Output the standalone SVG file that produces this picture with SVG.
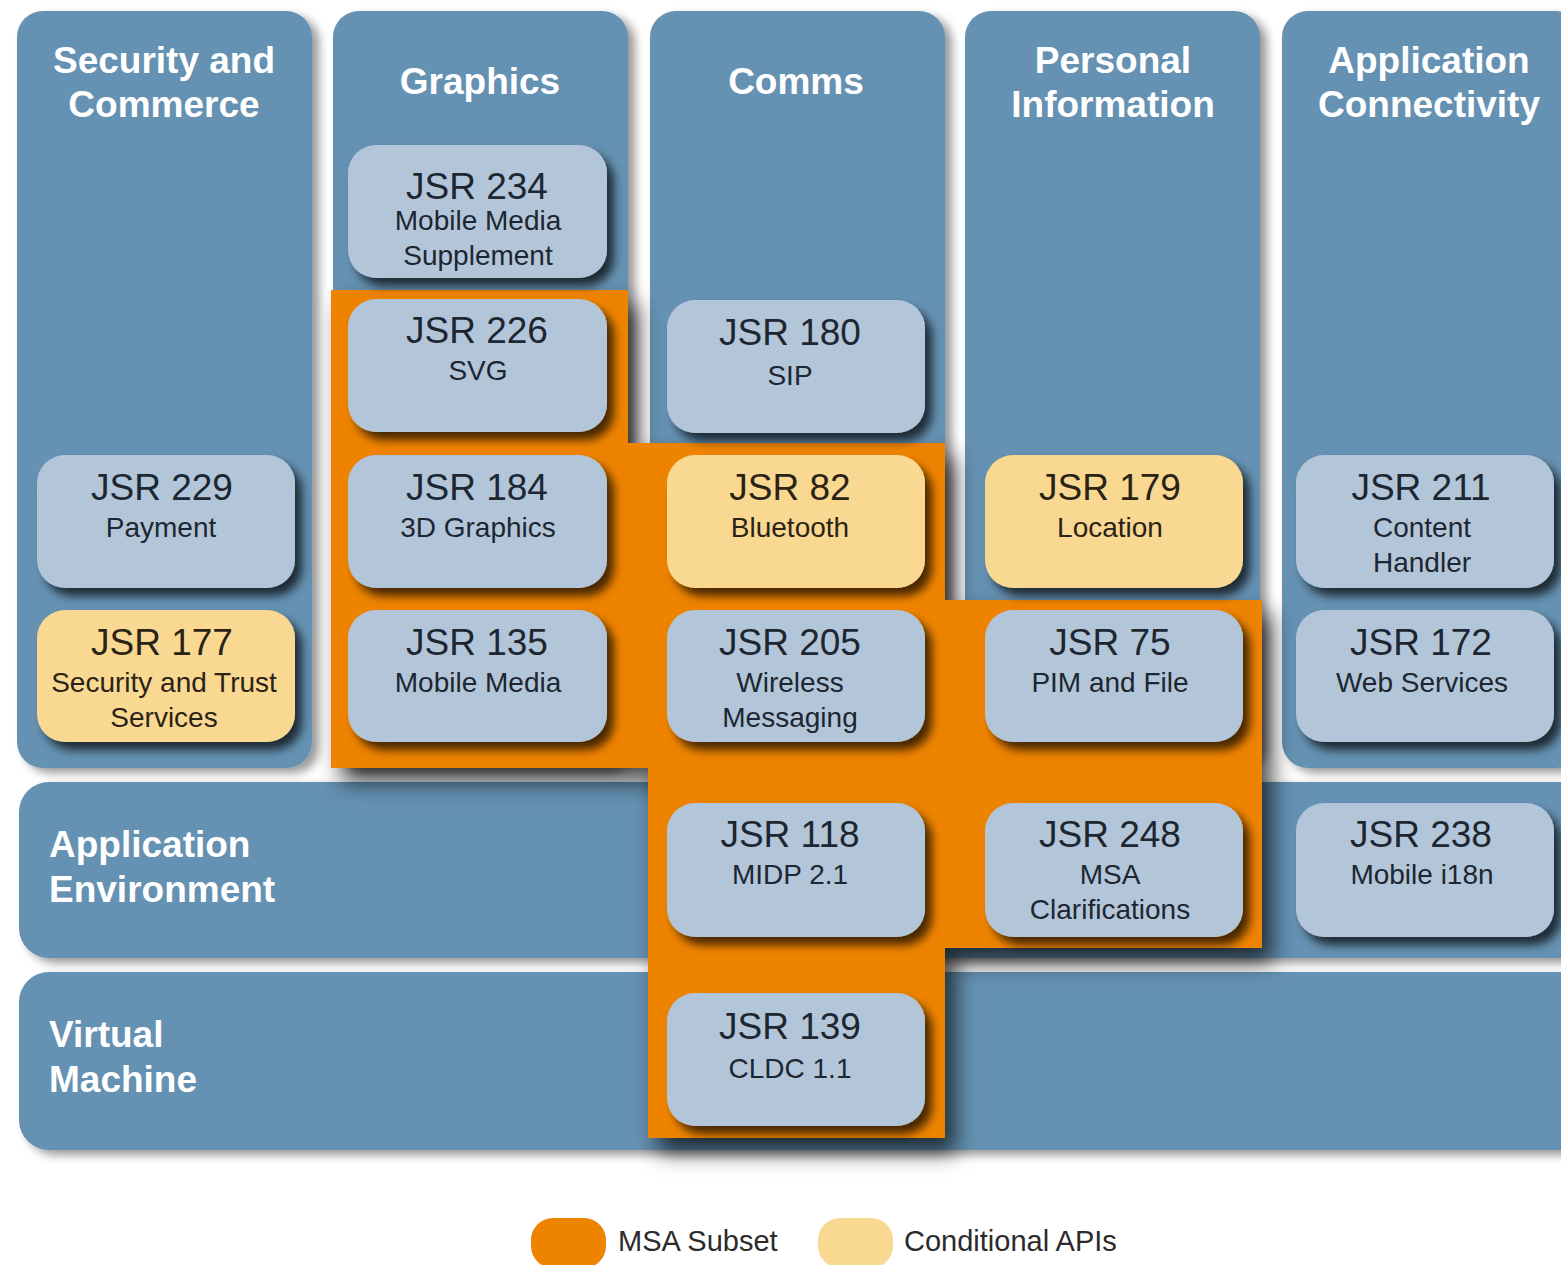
<svg xmlns="http://www.w3.org/2000/svg" width="1561" height="1265" viewBox="0 0 1561 1265">
  <defs>
    <filter id="panelShadow" x="-10%" y="-10%" width="130%" height="130%">
      <feDropShadow dx="7" dy="5" stdDeviation="5" flood-color="#000" flood-opacity="0.4"/>
    </filter>
    <filter id="msaShadow" x="-15%" y="-15%" width="140%" height="140%">
      <feDropShadow dx="10" dy="14" stdDeviation="11" flood-color="#000" flood-opacity="0.7"/>
    </filter>
    <filter id="boxShadow" x="-10%" y="-10%" width="130%" height="140%">
      <feDropShadow dx="7" dy="8" stdDeviation="5" flood-color="#000" flood-opacity="0.7"/>
    </filter>
    <style>
      .panel { fill: #6591b2; filter: url(#panelShadow); }
      .msa { fill: #ee8300; filter: url(#msaShadow); }
      .box { fill: #b3c6d9; filter: url(#boxShadow); }
      .cond { fill: #f9d991; filter: url(#boxShadow); }
      .head { font-family: "Liberation Sans", Arial, sans-serif; font-weight: bold; font-size: 37px; fill: #ffffff; text-anchor: middle; }
      .rowhead { font-family: "Liberation Sans", Arial, sans-serif; font-weight: bold; font-size: 37px; fill: #ffffff; }
      .t { font-family: "Liberation Sans", Arial, sans-serif; font-size: 37px; fill: #1d2631; text-anchor: middle; }
      .s { font-family: "Liberation Sans", Arial, sans-serif; font-size: 28px; fill: #1d2631; text-anchor: middle; }
      .ct { fill: #2a2316; }
      .legend { font-family: "Liberation Sans", Arial, sans-serif; font-size: 29px; fill: #2b2b2b; }
    </style>
  </defs>

  <rect width="1561" height="1265" fill="#ffffff"/>

  <!-- layer rows -->
  <g id="row-app-env">
    <rect class="panel" x="19" y="782" width="1580" height="176" rx="30"/>
    <text class="rowhead" x="49" y="857">Application</text>
    <text class="rowhead" x="49" y="902">Environment</text>
  </g>
  <g id="row-vm">
    <rect class="panel" x="19" y="972" width="1580" height="178" rx="30"/>
    <text class="rowhead" x="49" y="1047">Virtual</text>
    <text class="rowhead" x="49" y="1092">Machine</text>
  </g>

  <!-- functional area columns -->
  <g id="col-security">
    <rect class="panel" x="17" y="11" width="295" height="757" rx="26"/>
    <text class="head" x="164" y="73">Security and</text>
    <text class="head" x="164" y="117">Commerce</text>
  </g>
  <g id="col-graphics">
    <rect class="panel" x="333" y="11" width="295" height="757" rx="26"/>
    <text class="head" x="480" y="94">Graphics</text>
  </g>
  <g id="col-comms">
    <rect class="panel" x="650" y="11" width="295" height="757" rx="26"/>
    <text class="head" x="796" y="94">Comms</text>
  </g>
  <g id="col-personal">
    <rect class="panel" x="965" y="11" width="295" height="757" rx="26"/>
    <text class="head" x="1113" y="73">Personal</text>
    <text class="head" x="1113" y="117">Information</text>
  </g>
  <g id="col-connectivity">
    <rect class="panel" x="1282" y="11" width="300" height="757" rx="26"/>
    <text class="head" x="1429" y="73">Application</text>
    <text class="head" x="1429" y="117">Connectivity</text>
  </g>

  <!-- MSA subset area -->
  <g id="msa-subset">
    <path class="msa" d="M331 290 H628 V443 H945 V600 H1262 V948 H945 V1138 H648 V768 H331 Z"/>
  </g>

  <!-- JSR boxes -->
  <g id="jsr234">
    <rect class="box" x="348" y="145" width="259" height="133" rx="28"/>
    <text class="t" x="477" y="199">JSR 234</text>
    <text class="s" x="478" y="230">Mobile Media</text>
    <text class="s" x="478" y="265">Supplement</text>
  </g>
  <g id="jsr226">
    <rect class="box" x="348" y="299" width="259" height="133" rx="28"/>
    <text class="t" x="477" y="343">JSR 226</text>
    <text class="s" x="478" y="380">SVG</text>
  </g>
  <g id="jsr184">
    <rect class="box" x="348" y="455" width="259" height="133" rx="28"/>
    <text class="t" x="477" y="500">JSR 184</text>
    <text class="s" x="478" y="537">3D Graphics</text>
  </g>
  <g id="jsr135">
    <rect class="box" x="348" y="610" width="259" height="132" rx="28"/>
    <text class="t" x="477" y="655">JSR 135</text>
    <text class="s" x="478" y="692">Mobile Media</text>
  </g>

  <g id="jsr229">
    <rect class="box" x="37" y="455" width="258" height="133" rx="28"/>
    <text class="t" x="162" y="500">JSR 229</text>
    <text class="s" x="161" y="537">Payment</text>
  </g>
  <g id="jsr177">
    <rect class="cond" x="37" y="610" width="258" height="132" rx="28"/>
    <text class="t ct" x="162" y="655">JSR 177</text>
    <text class="s ct" x="164" y="692">Security and Trust</text>
    <text class="s ct" x="164" y="727">Services</text>
  </g>

  <g id="jsr180">
    <rect class="box" x="667" y="300" width="258" height="133" rx="28"/>
    <text class="t" x="790" y="345">JSR 180</text>
    <text class="s" x="790" y="385">SIP</text>
  </g>
  <g id="jsr82">
    <rect class="cond" x="667" y="455" width="258" height="133" rx="28"/>
    <text class="t ct" x="790" y="500">JSR 82</text>
    <text class="s ct" x="790" y="537">Bluetooth</text>
  </g>
  <g id="jsr205">
    <rect class="box" x="667" y="610" width="258" height="132" rx="28"/>
    <text class="t" x="790" y="655">JSR 205</text>
    <text class="s" x="790" y="692">Wireless</text>
    <text class="s" x="790" y="727">Messaging</text>
  </g>
  <g id="jsr118">
    <rect class="box" x="667" y="803" width="258" height="134" rx="28"/>
    <text class="t" x="790" y="847">JSR 118</text>
    <text class="s" x="790" y="884">MIDP 2.1</text>
  </g>
  <g id="jsr139">
    <rect class="box" x="667" y="993" width="258" height="133" rx="28"/>
    <text class="t" x="790" y="1039">JSR 139</text>
    <text class="s" x="790" y="1078">CLDC 1.1</text>
  </g>

  <g id="jsr179">
    <rect class="cond" x="985" y="455" width="258" height="133" rx="28"/>
    <text class="t ct" x="1110" y="500">JSR 179</text>
    <text class="s ct" x="1110" y="537">Location</text>
  </g>
  <g id="jsr75">
    <rect class="box" x="985" y="610" width="258" height="132" rx="28"/>
    <text class="t" x="1110" y="655">JSR 75</text>
    <text class="s" x="1110" y="692">PIM and File</text>
  </g>
  <g id="jsr248">
    <rect class="box" x="985" y="803" width="258" height="134" rx="28"/>
    <text class="t" x="1110" y="847">JSR 248</text>
    <text class="s" x="1110" y="884">MSA</text>
    <text class="s" x="1110" y="919">Clarifications</text>
  </g>

  <g id="jsr211">
    <rect class="box" x="1296" y="455" width="258" height="133" rx="28"/>
    <text class="t" x="1421" y="500">JSR 211</text>
    <text class="s" x="1422" y="537">Content</text>
    <text class="s" x="1422" y="572">Handler</text>
  </g>
  <g id="jsr172">
    <rect class="box" x="1296" y="610" width="258" height="132" rx="28"/>
    <text class="t" x="1421" y="655">JSR 172</text>
    <text class="s" x="1422" y="692">Web Services</text>
  </g>
  <g id="jsr238">
    <rect class="box" x="1296" y="803" width="258" height="134" rx="28"/>
    <text class="t" x="1421" y="847">JSR 238</text>
    <text class="s" x="1422" y="884">Mobile i18n</text>
  </g>

  <!-- no connectors between the blocks -->
  <g id="connectors"/>

  <!-- legend -->
  <g id="legend">
    <rect x="531" y="1218" width="75" height="50" rx="22" fill="#ee8300"/>
    <text class="legend" x="618" y="1251">MSA Subset</text>
    <rect x="818" y="1218" width="75" height="50" rx="22" fill="#f9d991"/>
    <text class="legend" x="904" y="1251">Conditional APIs</text>
  </g>
</svg>
